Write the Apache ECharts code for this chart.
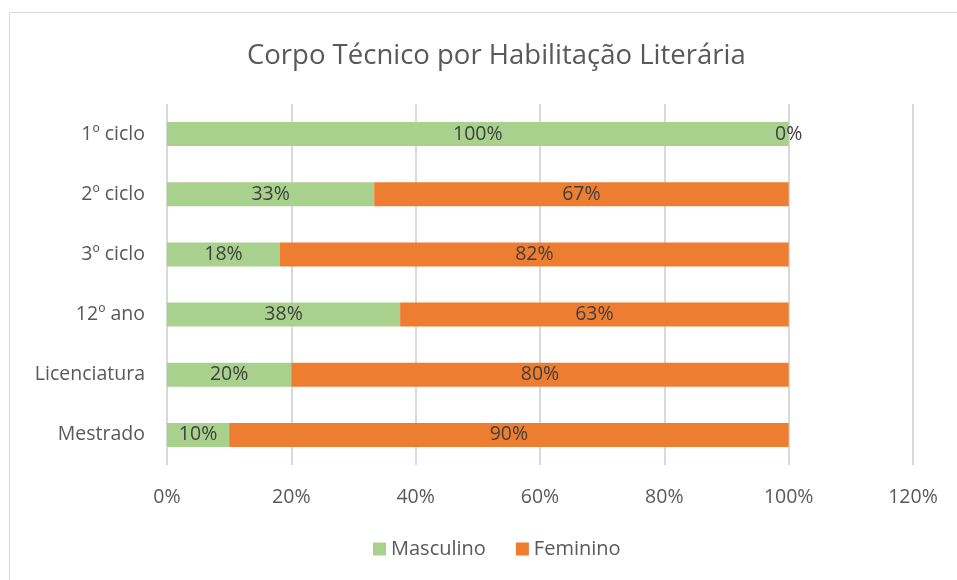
<!DOCTYPE html>
<html>
<head>
<meta charset="utf-8">
<title>Corpo Técnico por Habilitação Literária</title>
<style>
html,body{margin:0;padding:0;background:#fff;}
#main{width:957px;height:580px;}
</style>
</head>
<body>
<div id="main"></div>
<script src="https://cdn.jsdelivr.net/npm/echarts@6/dist/echarts.min.js"></script>
<script>
var categories = ['1º ciclo', '2º ciclo', '3º ciclo', '12º ano', 'Licenciatura', 'Mestrado'];
var masculino = [100, 33.33, 18.18, 37.5, 20, 10];
var feminino = [0, 66.67, 81.82, 62.5, 80, 90];
var xTicks = [0, 20, 40, 60, 80, 100, 120];

var textColor = '#595959';
var font = "'Open Sans', 'Noto Sans', sans-serif";

var myChart = echarts.init(document.getElementById('main'));

function pctLabel(p){
  return Math.round(p.value) + '%';
}

var option = {
  animation: false,
  textStyle: {fontFamily: font},
  graphic: [{
    type: 'rect',
    shape: {x: 9.5, y: 12.5, width: 1000, height: 1000},
    style: {fill: 'none', stroke: '#d9d9d9', lineWidth: 1}
  }],
  title: {
    text: 'Corpo Técnico por Habilitação Literária',
    left: 242,
    top: 37,
    textStyle: {color: textColor, fontSize: 27.5, fontWeight: 'normal', fontFamily: font}
  },
  legend: {
    bottom: 16,
    left: 368,
    itemWidth: 13,
    itemHeight: 13,
    itemGap: 30,
    icon: 'rect',
    textStyle: {color: textColor, fontSize: 20, fontFamily: font},
    data: ['Masculino', 'Feminino']
  },
  grid: {left: 167, right: 44, top: 104, bottom: 115},
  xAxis: {
    type: 'value',
    min: xTicks[0],
    max: xTicks[xTicks.length - 1],
    interval: 20,
    axisLine: {show: false},
    axisTick: {show: false},
    axisLabel: {color: textColor, fontSize: 19.5, margin: 22, formatter: '{value}%'},
    splitLine: {lineStyle: {color: '#d9d9d9', width: 2}}
  },
  yAxis: {
    type: 'category',
    inverse: true,
    data: categories,
    axisLine: {show: false},
    axisTick: {show: false},
    axisLabel: {color: textColor, fontSize: 19.5, margin: 22}
  },
  series: [
    {
      name: 'Masculino',
      type: 'bar',
      stack: 'total',
      barWidth: 24,
      itemStyle: {color: '#a9d18e'},
      label: {show: true, position: 'inside', color: '#404040', fontSize: 19.5, formatter: pctLabel},
      data: masculino
    },
    {
      name: 'Feminino',
      type: 'bar',
      stack: 'total',
      barWidth: 24,
      itemStyle: {color: '#ed7d31'},
      label: {show: true, position: 'inside', color: '#404040', fontSize: 19.5, formatter: pctLabel},
      data: feminino
    }
  ]
};
myChart.setOption(option);
</script>
</body>
</html>
